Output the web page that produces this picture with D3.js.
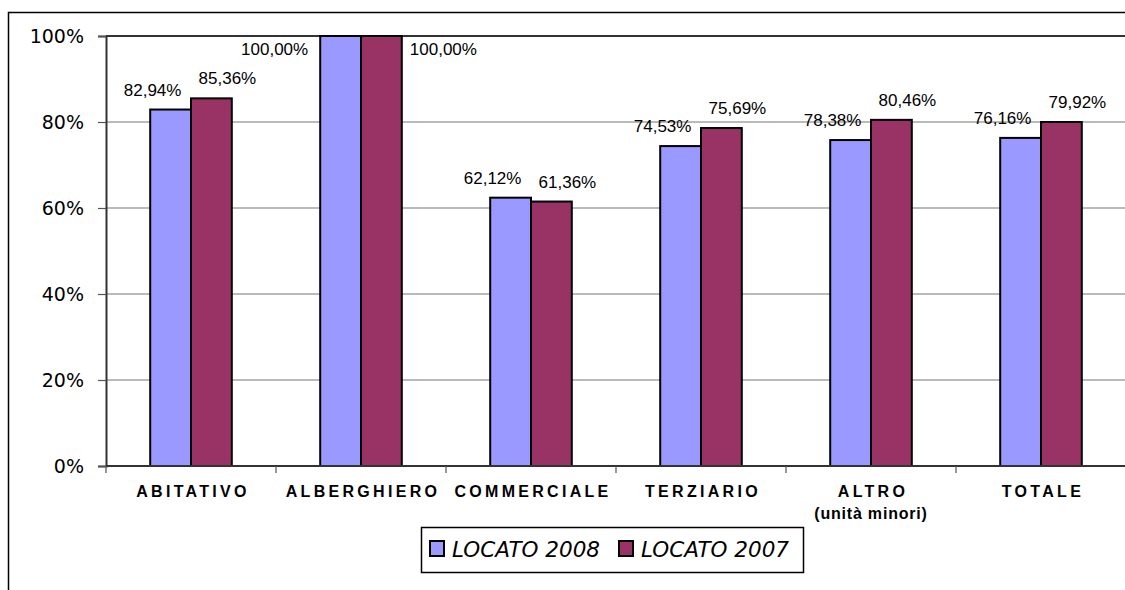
<!DOCTYPE html>
<html>
<head>
<meta charset="utf-8">
<script src="https://cdn.jsdelivr.net/npm/d3@7"></script>
<style>
  html, body { margin: 0; padding: 0; background: #fff; }
  svg { display: block; }
</style>
</head>
<body>
<svg id="chart" width="1125" height="590"></svg>
<script>
// ---- data ----
const categories = ["ABITATIVO", "ALBERGHIERO", "COMMERCIALE", "TERZIARIO", "ALTRO", "TOTALE"];
const subLabels = ["", "", "", "", "(unità minori)", ""];
const seriesNames = ["LOCATO 2008", "LOCATO 2007"];
const values2008 = [82.9, 100, 62.4, 74.4, 75.8, 76.3];
const values2007 = [85.5, 100, 61.5, 78.6, 80.5, 80.0];
const labels2008 = ["82,94%", "100,00%", "62,12%", "74,53%", "78,38%", "76,16%"];
const labels2007 = ["85,36%", "100,00%", "61,36%", "75,69%", "80,46%", "79,92%"];
const yTicks = [0, 20, 40, 60, 80, 100];
const yTickLabels = ["0%", "20%", "40%", "60%", "80%", "100%"];
const colors = ["#9999FF", "#993366"];

// ---- layout ----
const svg = d3.select("#chart");
const plot = { left: 106, top: 36, right: 1126, bottom: 466 };

const x = d3.scaleBand().domain(categories).range([plot.left, plot.right]).padding(0);
const y = d3.scaleLinear().domain([0, 100]).range([plot.bottom, plot.top]);
const barW = x.bandwidth() * 0.24;

// outer chart border
svg.append("rect")
  .attr("x", 8.5).attr("y", 12.5)
  .attr("width", 1200).attr("height", 700)
  .attr("fill", "none").attr("stroke", "#000").attr("stroke-width", 1.5);

// gridlines
svg.append("g")
  .selectAll("line")
  .data(yTicks.filter(t => t > 0 && t < 100))
  .join("line")
  .attr("x1", plot.left).attr("x2", plot.right)
  .attr("y1", d => y(d)).attr("y2", d => y(d))
  .attr("stroke", "#777").attr("stroke-width", 1);

// plot top border
svg.append("line")
  .attr("x1", plot.left).attr("x2", plot.right)
  .attr("y1", y(100)).attr("y2", y(100))
  .attr("stroke", "#333").attr("stroke-width", 2);

// bars
const barData = [];
categories.forEach((c, i) => {
  barData.push({ c, s: 0, v: values2008[i], label: labels2008[i] });
  barData.push({ c, s: 1, v: values2007[i], label: labels2007[i] });
});
const barX = d => x(d.c) + x.bandwidth() / 2 + (d.s === 0 ? -barW : 0);

svg.append("g")
  .selectAll("rect")
  .data(barData)
  .join("rect")
  .attr("x", barX)
  .attr("y", d => y(d.v))
  .attr("width", barW)
  .attr("height", d => y(0) - y(d.v))
  .attr("fill", d => colors[d.s])
  .attr("stroke", "#000")
  .attr("stroke-width", 2);

// data labels
svg.append("g")
  .selectAll("text")
  .data(barData)
  .join("text")
  .attr("x", d => {
    const cx = barX(d) + barW / 2;
    if (d.v >= 100) return d.s === 0 ? barX(d) - 12 : barX(d) + barW + 8;
    return d.s === 0 ? cx - 18 : cx + 16;
  })
  .attr("y", d => d.v >= 100 ? y(100) + 19 : y(d.v) - 14)
  .attr("text-anchor", d => d.v >= 100 ? (d.s === 0 ? "end" : "start") : "middle")
  .attr("font-family", "'Liberation Sans', Arial, sans-serif")
  .attr("font-size", 17)
  .attr("fill", "#000")
  .text(d => d.label);

// y axis
const yAxis = d3.axisLeft(y)
  .tickValues(yTicks)
  .tickFormat((d, i) => yTickLabels[i])
  .tickSize(8)
  .tickPadding(14);
const gy = svg.append("g").attr("transform", `translate(${plot.left},0)`).call(yAxis);
gy.select(".domain").attr("stroke", "#333").attr("stroke-width", 2);
gy.selectAll(".tick line").attr("stroke", "#555").attr("stroke-width", 1.2);
gy.selectAll(".tick text")
  .attr("font-family", "'DejaVu Sans', sans-serif")
  .attr("font-size", 19)
  .attr("fill", "#000");

// x axis (ticks at band boundaries)
svg.append("line")
  .attr("x1", plot.left).attr("x2", plot.right)
  .attr("y1", y(0)).attr("y2", y(0))
  .attr("stroke", "#333").attr("stroke-width", 2);
svg.append("g")
  .selectAll("line")
  .data(categories)
  .join("line")
  .attr("x1", d => x(d)).attr("x2", d => x(d))
  .attr("y1", y(0)).attr("y2", y(0) + 7)
  .attr("stroke", "#555").attr("stroke-width", 1.2);

svg.append("g")
  .selectAll("text")
  .data(categories)
  .join("text")
  .attr("x", d => x(d) + x.bandwidth() / 2 + 2)
  .attr("y", y(0) + 31)
  .attr("text-anchor", "middle")
  .attr("font-family", "'Liberation Sans', Arial, sans-serif")
  .attr("font-weight", "bold")
  .attr("font-size", 16)
  .attr("letter-spacing", 3.3)
  .attr("fill", "#000")
  .text(d => d);

svg.append("g")
  .selectAll("text")
  .data(categories.map((c, i) => ({ c, t: subLabels[i] })).filter(d => d.t))
  .join("text")
  .attr("x", d => x(d.c) + x.bandwidth() / 2)
  .attr("y", y(0) + 53)
  .attr("text-anchor", "middle")
  .attr("font-family", "'Liberation Sans', Arial, sans-serif")
  .attr("font-weight", "bold")
  .attr("font-size", 16)
  .attr("letter-spacing", 0.8)
  .attr("fill", "#000")
  .text(d => d.t);

// legend
const legend = svg.append("g").attr("transform", "translate(421,527)");
legend.append("rect")
  .attr("x", 0.5).attr("y", 0.5)
  .attr("width", 382).attr("height", 45)
  .attr("fill", "#fff").attr("stroke", "#000").attr("stroke-width", 1.5);
const items = legend.selectAll("g.item")
  .data(seriesNames)
  .join("g")
  .attr("class", "item")
  .attr("transform", (d, i) => `translate(${9 + i * 189},0)`);
items.append("rect")
  .attr("x", 0).attr("y", 14)
  .attr("width", 14).attr("height", 15)
  .attr("fill", (d, i) => colors[i])
  .attr("stroke", "#000").attr("stroke-width", 2);
items.append("text")
  .attr("x", 22).attr("y", 30)
  .attr("font-family", "'DejaVu Sans', sans-serif")
  .attr("font-style", "italic")
  .attr("font-size", 21.5)
  .attr("fill", "#000")
  .text(d => d);
</script>
</body>
</html>
